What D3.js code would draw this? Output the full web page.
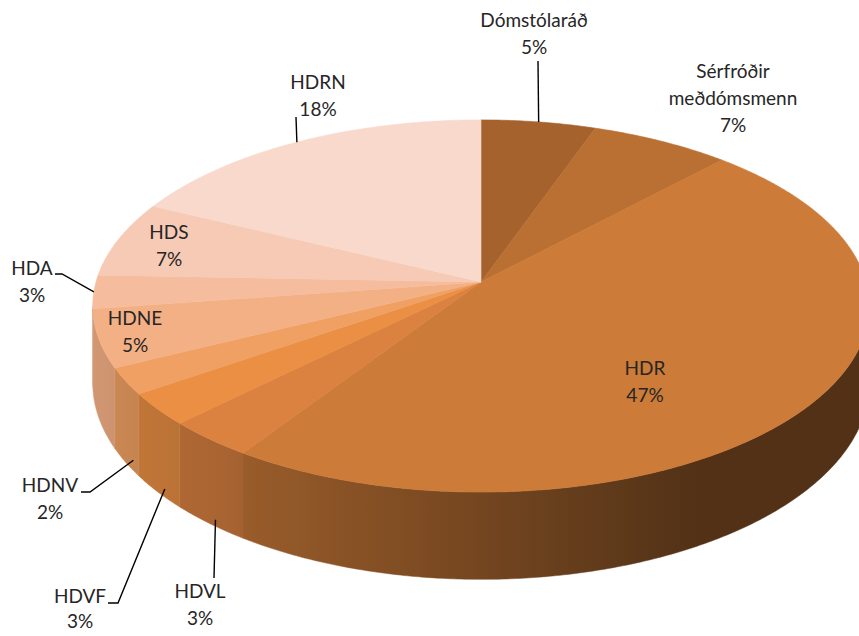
<!DOCTYPE html>
<html>
<head>
<meta charset="utf-8">
<script src="https://cdn.jsdelivr.net/npm/d3@7"></script>
<style>
  body { margin: 0; background: #fff; }
  svg { display: block; }
  .lbl { font-family: Lato, "Noto Sans", sans-serif; font-size: 19px; fill: #262626; }
</style>
</head>
<body>
<div id="chart"></div>
<script>
// slices clockwise from 12 o'clock
const categories = ["Dómstólaráð", "Sérfróðir meðdómsmenn", "HDR", "HDVL", "HDVF", "HDNV", "HDNE", "HDA", "HDS", "HDRN"]
const shares = [5.4, 6.6, 47.3, 3.3, 2.8, 2.3, 5.0, 2.9, 6.6, 17.8]
const colors = ["#a5622d", "#ba6f33", "#cc7b38", "#dc8241", "#ea8f43", "#f0a062", "#f4b085", "#f5bd9d", "#f6cab4", "#f8d9cb"]

const width = 859, height = 636
// 3d pie set up: projected centre, radii, perspective and depth
const cx = 481, cy = 282, Rx = 385, Ry = 183, k = 0.129, depth = 76

const svg = d3.select("#chart").append("svg")
    .attr("width", width)
    .attr("height", height)
const defs = svg.append("defs")

const data = categories.map((c, i) => ({ name: c, value: shares[i], color: colors[i] }))
const total = d3.sum(shares)

const pie = d3.pie().sort(null).value(d => d.value).startAngle(0).endAngle(2 * Math.PI)
const arcs = pie(data)

// unit circle -> screen with a bit of perspective
function proj(a, r = 1) {
    let u = r * Math.sin(a), v = -r * Math.cos(a)
    let w = 1 - k * v
    return { x: cx + Rx * u / w, y: cy + Ry * v / w, v: v, w: w }
}
function bottom(p) {
    return { x: p.x, y: p.y + depth / p.w }
}
function arcPoints(a0, a1, step) {
    let n = Math.max(2, Math.ceil((a1 - a0) / step))
    return d3.range(n + 1).map(i => proj(a0 + (a1 - a0) * i / n))
}

// side shading goes darker to the right
const shade = d3.scaleLinear().domain([100, 700]).range([0.14, 0.6]).clamp(true)
const gx = [90, 200, 300, 400, 500, 600, 700, 860]

// front facing part of the wall
const visFrom = Math.acos(-k), visTo = 2 * Math.PI - Math.acos(-k)

const sides = svg.append("g").attr("class", "sides")
arcs.forEach((d, i) => {
    let a0 = Math.max(d.startAngle, visFrom), a1 = Math.min(d.endAngle, visTo)
    if (a1 <= a0) return
    let grad = defs.append("linearGradient")
        .attr("id", "side" + i)
        .attr("gradientUnits", "userSpaceOnUse")
        .attr("x1", gx[0]).attr("x2", gx[gx.length - 1])
        .attr("y1", 0).attr("y2", 0)
    gx.forEach(x => {
        grad.append("stop")
            .attr("offset", (x - gx[0]) / (gx[gx.length - 1] - gx[0]))
            .attr("stop-color", d3.interpolateRgb(d.data.color, "#000")(shade(x)))
    })
    let top = arcPoints(a0, a1, Math.PI / 360)
    let bot = top.map(bottom).reverse()
    let pts = top.concat(bot)
    sides.append("path")
        .attr("d", "M" + pts.map(p => p.x + "," + p.y).join("L") + "Z")
        .attr("fill", "url(#side" + i + ")")
        .attr("stroke", "url(#side" + i + ")")
        .attr("stroke-width", 0.5)
})

// top faces
function topPath(d) {
    let pts = arcPoints(d.startAngle, d.endAngle, Math.PI / 360)
    return "M" + cx + "," + cy + "L" + pts.map(p => p.x + "," + p.y).join("L") + "Z"
}
svg.append("g").attr("class", "tops")
    .selectAll("path")
    .data(arcs)
    .enter().append("path")
    .attr("d", topPath)
    .attr("fill", d => d.data.color)
    .attr("stroke", d => d.data.color)
    .attr("stroke-width", 0.6)

// label layout: text centre / first baseline, and leader shape
const layout = {
    "Dómstólaráð": { x: 534, y: 27, leader: [[538, 61]] },
    "Sérfróðir meðdómsmenn": { x: 733, y: 78, lines: ["Sérfróðir", "meðdómsmenn"] },
    "HDR": { x: 645, y: 375 },
    "HDVL": { x: 200, y: 598, leader: [[214, 578]], front: true },
    "HDVF": { x: 80, y: 603, leader: [[108, 603], [118, 603]], front: true },
    "HDNV": { x: 50, y: 492, leader: [[81, 492], [90, 492]], front: true },
    "HDNE": { x: 135, y: 325 },
    "HDA": { x: 32, y: 275, leader: [[55, 274], [62, 274]] },
    "HDS": { x: 169, y: 239 },
    "HDRN": { x: 318, y: 89, leader: [[296, 117]] }
}
const lineH = 27
const fmt = d3.format(".0%")

const labels = svg.append("g").attr("class", "labels")

arcs.forEach(d => {
    let L = layout[d.data.name]
    let lines = (L.lines || [d.data.name]).concat([fmt(d.data.value / total)])
    let t = labels.append("text")
        .attr("class", "lbl")
        .attr("text-anchor", "middle")
    lines.forEach((s, i) => {
        t.append("tspan").attr("x", L.x).attr("y", L.y + i * (s.endsWith("%") && L.x < 100 && L.y > 600 ? 25 : lineH)).text(s)
    })
    if (L.leader) {
        let mid = (d.startAngle + d.endAngle) / 2
        let end = L.front ? bottom(proj(mid, 0.98)) : proj(mid)
        let pts = L.leader.concat([[end.x, end.y]])
        labels.append("path")
            .attr("d", d3.line()(pts))
            .attr("fill", "none")
            .attr("stroke", "#000")
            .attr("stroke-width", 1.4)
    }
})
</script>
</body>
</html>
